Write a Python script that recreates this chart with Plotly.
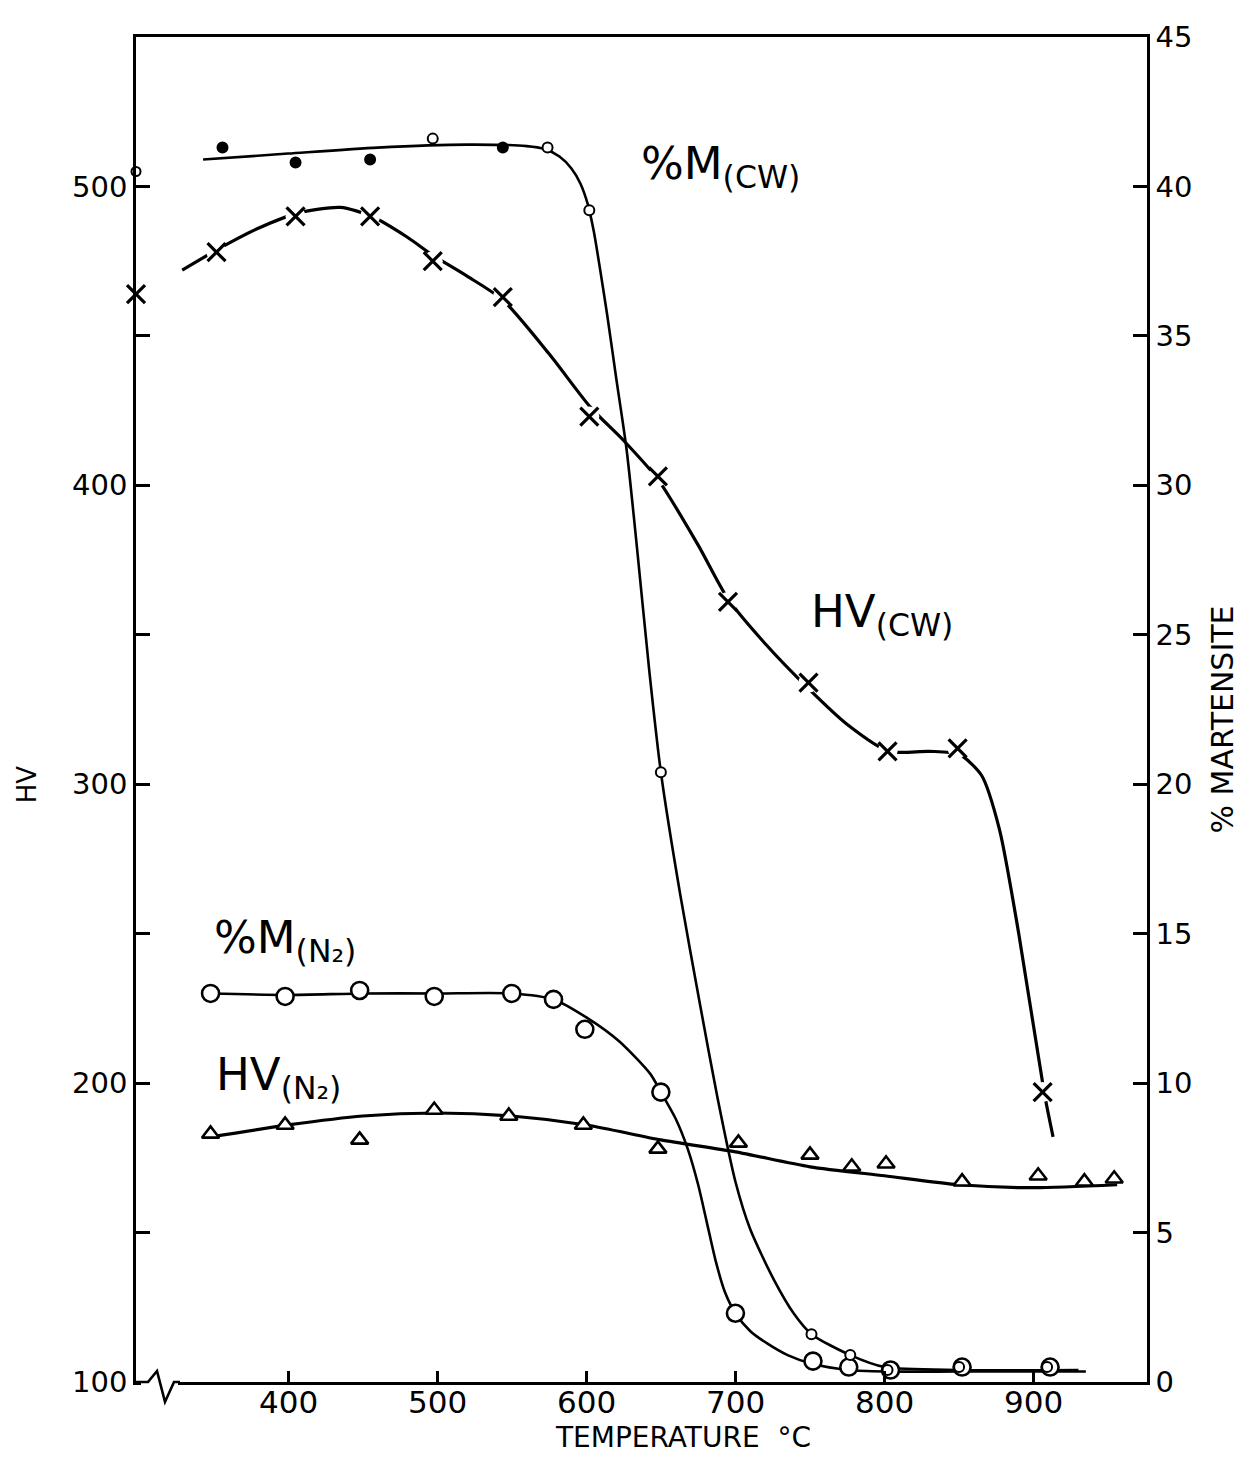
import plotly.graph_objects as go

# ---------------- axes ----------------
X_RANGE = [298, 976]            # temperature, °C (left end is broken / room temp)
X_TICKS = [400, 500, 600, 700, 800, 900]
HV_RANGE = [100, 550]
HV_TICKS = [100, 200, 300, 400, 500]
HV_MINOR_TICKS = [150, 250, 350, 450]
M_RANGE = [0, 45]
M_TICKS = [0, 5, 10, 15, 20, 25, 30, 35, 40, 45]

# ---------------- HV (CW) ----------------
hv_cw_rt = 464
hv_cw_T = [352, 405, 455, 497, 544, 602, 648, 695, 749, 802, 849, 906]
hv_cw_HV = [478, 490, 490, 475, 463, 423, 403, 361, 334, 311, 312, 197]
hv_cw_curve_T = [329, 353, 380, 406, 435, 456, 480, 497, 520, 544, 575, 603, 625, 648,
                 675, 695, 720, 749, 775, 803, 830, 850, 865, 877, 890, 907, 913]
hv_cw_curve_HV = [472, 479, 486, 491, 493, 490, 483, 477, 470, 462, 444, 426, 415, 402,
                  380, 362, 347, 332, 320, 311, 311, 310, 303, 285, 250, 197, 182]

# ---------------- %M (CW) ----------------
m_cw_rt = 40.5
m_cw_T = [356, 405, 455, 497, 544, 574, 602, 650, 751, 777, 802, 850, 909]
m_cw_M = [41.3, 40.8, 40.9, 41.6, 41.3, 41.3, 39.2, 20.4, 1.6, 0.9, 0.4, 0.5, 0.5]
m_cw_curve_T = [343, 400, 460, 520, 560, 572, 582, 590, 596, 601, 605, 609, 614, 620,
                627, 634, 642, 650, 663, 676, 688, 700, 710, 726, 739, 751, 777, 800,
                850, 930]
m_cw_curve_M = [40.9, 41.1, 41.3, 41.4, 41.35, 41.25, 41.0, 40.6, 40.1, 39.4, 38.5, 37.3,
                35.7, 33.6, 31.2, 27.9, 23.9, 20.4, 16.3, 12.7, 9.5, 6.7, 5.1, 3.4, 2.3,
                1.6, 0.9, 0.5, 0.4, 0.4]

# ---------------- %M (N2) ----------------
m_n2_T = [348, 398, 448, 498, 550, 578, 599, 650, 700, 752, 776, 804, 852, 911]
m_n2_M = [13.0, 12.9, 13.1, 12.9, 13.0, 12.8, 11.8, 9.7, 2.3, 0.7, 0.5, 0.4, 0.5, 0.5]
m_n2_curve_T = [348, 400, 450, 500, 550, 578, 600, 622, 643, 650, 660, 668, 675, 681,
                687, 693, 700, 710, 721, 735, 752, 776, 800, 850, 935]
m_n2_curve_M = [13.0, 12.95, 13.0, 13.0, 13.0, 12.8, 12.2, 11.4, 10.3, 9.7, 8.8, 7.8,
                6.6, 5.3, 4.0, 3.0, 2.3, 1.7, 1.3, 0.9, 0.6, 0.4, 0.35, 0.35, 0.35]

# ---------------- HV (N2) ----------------
hv_n2_T = [348, 398, 448, 498, 548, 598, 648, 702, 750, 778, 801, 852, 903, 934, 954]
hv_n2_HV = [183, 186, 181, 191, 189, 186, 178, 180, 176, 172, 173, 167, 169, 167, 168]
hv_n2_curve_T = [348, 400, 450, 500, 550, 600, 650, 700, 750, 800, 850, 900, 956]
hv_n2_curve_HV = [182, 186, 189, 190, 189, 186, 181, 177, 172, 169, 166, 165, 166]

# style helpers (not data)
m_cw_fill = ["black", "black", "black", "white", "black", "white", "white",
             "white", "white", "white", "white", "white", "white"]

INK = "black"
FONT = "DejaVu Sans"

fig = go.Figure()

def curve(x, y, yaxis="y", width=3.0):
    fig.add_trace(go.Scatter(x=x, y=y, mode="lines", yaxis=yaxis,
                             line=dict(color=INK, width=width, shape="spline", smoothing=0.7),
                             hoverinfo="skip", showlegend=False))

# curves
curve(hv_cw_curve_T, hv_cw_curve_HV, "y", 3.2)
curve(m_cw_curve_T, m_cw_curve_M, "y2", 2.6)
curve(m_n2_curve_T, m_n2_curve_M, "y2", 2.6)
curve(hv_n2_curve_T, hv_n2_curve_HV, "y", 3.2)

# HV(CW): white halo (gaps in line) + X markers
fig.add_trace(go.Scatter(x=hv_cw_T, y=hv_cw_HV, mode="markers",
                         marker=dict(symbol="circle", size=20, color="white", line=dict(width=0)),
                         hoverinfo="skip", showlegend=False))
fig.add_trace(go.Scatter(x=hv_cw_T, y=hv_cw_HV, mode="markers",
                         marker=dict(symbol="x-thin", size=18, line=dict(color=INK, width=3.2)),
                         showlegend=False))
fig.add_trace(go.Scatter(x=[X_RANGE[0]], y=[hv_cw_rt], mode="markers", cliponaxis=False,
                         marker=dict(symbol="x-thin", size=18, line=dict(color=INK, width=3.2)),
                         showlegend=False))

# %M(N2): open circles
fig.add_trace(go.Scatter(x=m_n2_T, y=m_n2_M, mode="markers", yaxis="y2",
                         marker=dict(symbol="circle", size=17, color="white",
                                     line=dict(color=INK, width=2.6)),
                         showlegend=False))

# %M(CW): small dots
fig.add_trace(go.Scatter(x=m_cw_T, y=m_cw_M, mode="markers", yaxis="y2",
                         marker=dict(symbol="circle", size=10, color=m_cw_fill,
                                     line=dict(color=INK, width=2)),
                         showlegend=False))
fig.add_trace(go.Scatter(x=[X_RANGE[0]], y=[m_cw_rt], mode="markers", yaxis="y2", cliponaxis=False,
                         marker=dict(symbol="circle", size=9, color="white",
                                     line=dict(color=INK, width=2)),
                         showlegend=False))

# HV(N2): open triangles
fig.add_trace(go.Scatter(x=hv_n2_T, y=hv_n2_HV, mode="markers",
                         marker=dict(symbol="triangle-up", size=15, color="white",
                                     line=dict(color=INK, width=2.6)),
                         showlegend=False))

# plot-area edges in page pixels (the page adds an 8 px body margin)
OFF = 8
W, H = 1245 - OFF, 1457 - OFF
L, R, T_, B = 136, 1147, 32, 1382
def px(x):
    return (x - L) / (R - L)
def py(y):
    return (B - y) / (B - T_)

# axis break on the temperature axis
fig.add_shape(type="rect", xref="paper", yref="paper", x0=px(141), x1=px(178), y0=py(1387), y1=py(1377),
              fillcolor="white", line=dict(width=0), layer="above")
fig.add_shape(type="path", xref="paper", yref="paper", layer="above",
              path=f"M {px(134)} {py(1382)} L {px(148)} {py(1382)} L {px(157)} {py(1371)} "
                   f"L {px(165)} {py(1402)} L {px(174)} {py(1382)} L {px(180)} {py(1382)}",
              line=dict(color=INK, width=2.6))

def axis_style(size, ticklen=14):
    return dict(showgrid=False, zeroline=False, showline=True, linecolor=INK, linewidth=2.6,
                ticks="inside", tickcolor=INK, tickwidth=2.6, ticklen=ticklen,
                tickfont=dict(family=FONT, size=size, color=INK))

fig.update_layout(
    width=W, height=H,
    margin=dict(l=L - OFF, r=W - (R - OFF), t=T_ - OFF, b=H - (B - OFF)),
    paper_bgcolor="white", plot_bgcolor="white",
    showlegend=False,
    xaxis=dict(range=X_RANGE, tickvals=X_TICKS, mirror=True, showticklabels=False,
               **axis_style(30, 11)),
    yaxis=dict(range=HV_RANGE, tickvals=HV_TICKS,
               minor=dict(tickvals=HV_MINOR_TICKS, ticks="inside", ticklen=14,
                          tickwidth=2.6, tickcolor=INK),
               **axis_style(29)),
    yaxis2=dict(range=M_RANGE, tickvals=M_TICKS, overlaying="y", side="right", **axis_style(29)),
)

# temperature tick labels (placed as text so they sit close to the axis)
for t in X_TICKS:
    fig.add_annotation(x=t, y=py(1402), xref="x", yref="paper", text=str(t),
                       showarrow=False, xanchor="center", yanchor="middle",
                       font=dict(family=FONT, size=31, color=INK))

# series labels
lab_font = dict(family=FONT, size=45, color=INK)
fig.add_annotation(x=635, y=507, xref="x", yref="y", text="%M<sub>(CW)</sub>",
                   showarrow=False, xanchor="left", yanchor="middle", font=lab_font)
fig.add_annotation(x=749, y=357, xref="x", yref="y", text="HV<sub>(CW)</sub>",
                   showarrow=False, xanchor="left", yanchor="middle", font=lab_font)
fig.add_annotation(x=349, y=248, xref="x", yref="y", text="%M<sub>(N₂)</sub>",
                   showarrow=False, xanchor="left", yanchor="middle", font=lab_font)
fig.add_annotation(x=350, y=202, xref="x", yref="y", text="HV<sub>(N₂)</sub>",
                   showarrow=False, xanchor="left", yanchor="middle", font=lab_font)

# axis titles
fig.add_annotation(x=px(683), y=py(1438), xref="paper", yref="paper", text="TEMPERATURE  °C",
                   xanchor="center", yanchor="middle",
                   showarrow=False, font=dict(family=FONT, size=28, color=INK))
fig.add_annotation(x=px(27), y=py(782), xref="paper", yref="paper", text="HV", textangle=-90,
                   xanchor="center", yanchor="middle",
                   showarrow=False, font=dict(family=FONT, size=26, color=INK))
fig.add_annotation(x=px(1222), y=py(717), xref="paper", yref="paper", text="% MARTENSITE",
                   textangle=-90, xanchor="center", yanchor="middle",
                   showarrow=False, font=dict(family=FONT, size=30, color=INK))

fig.write_html("out.html")
